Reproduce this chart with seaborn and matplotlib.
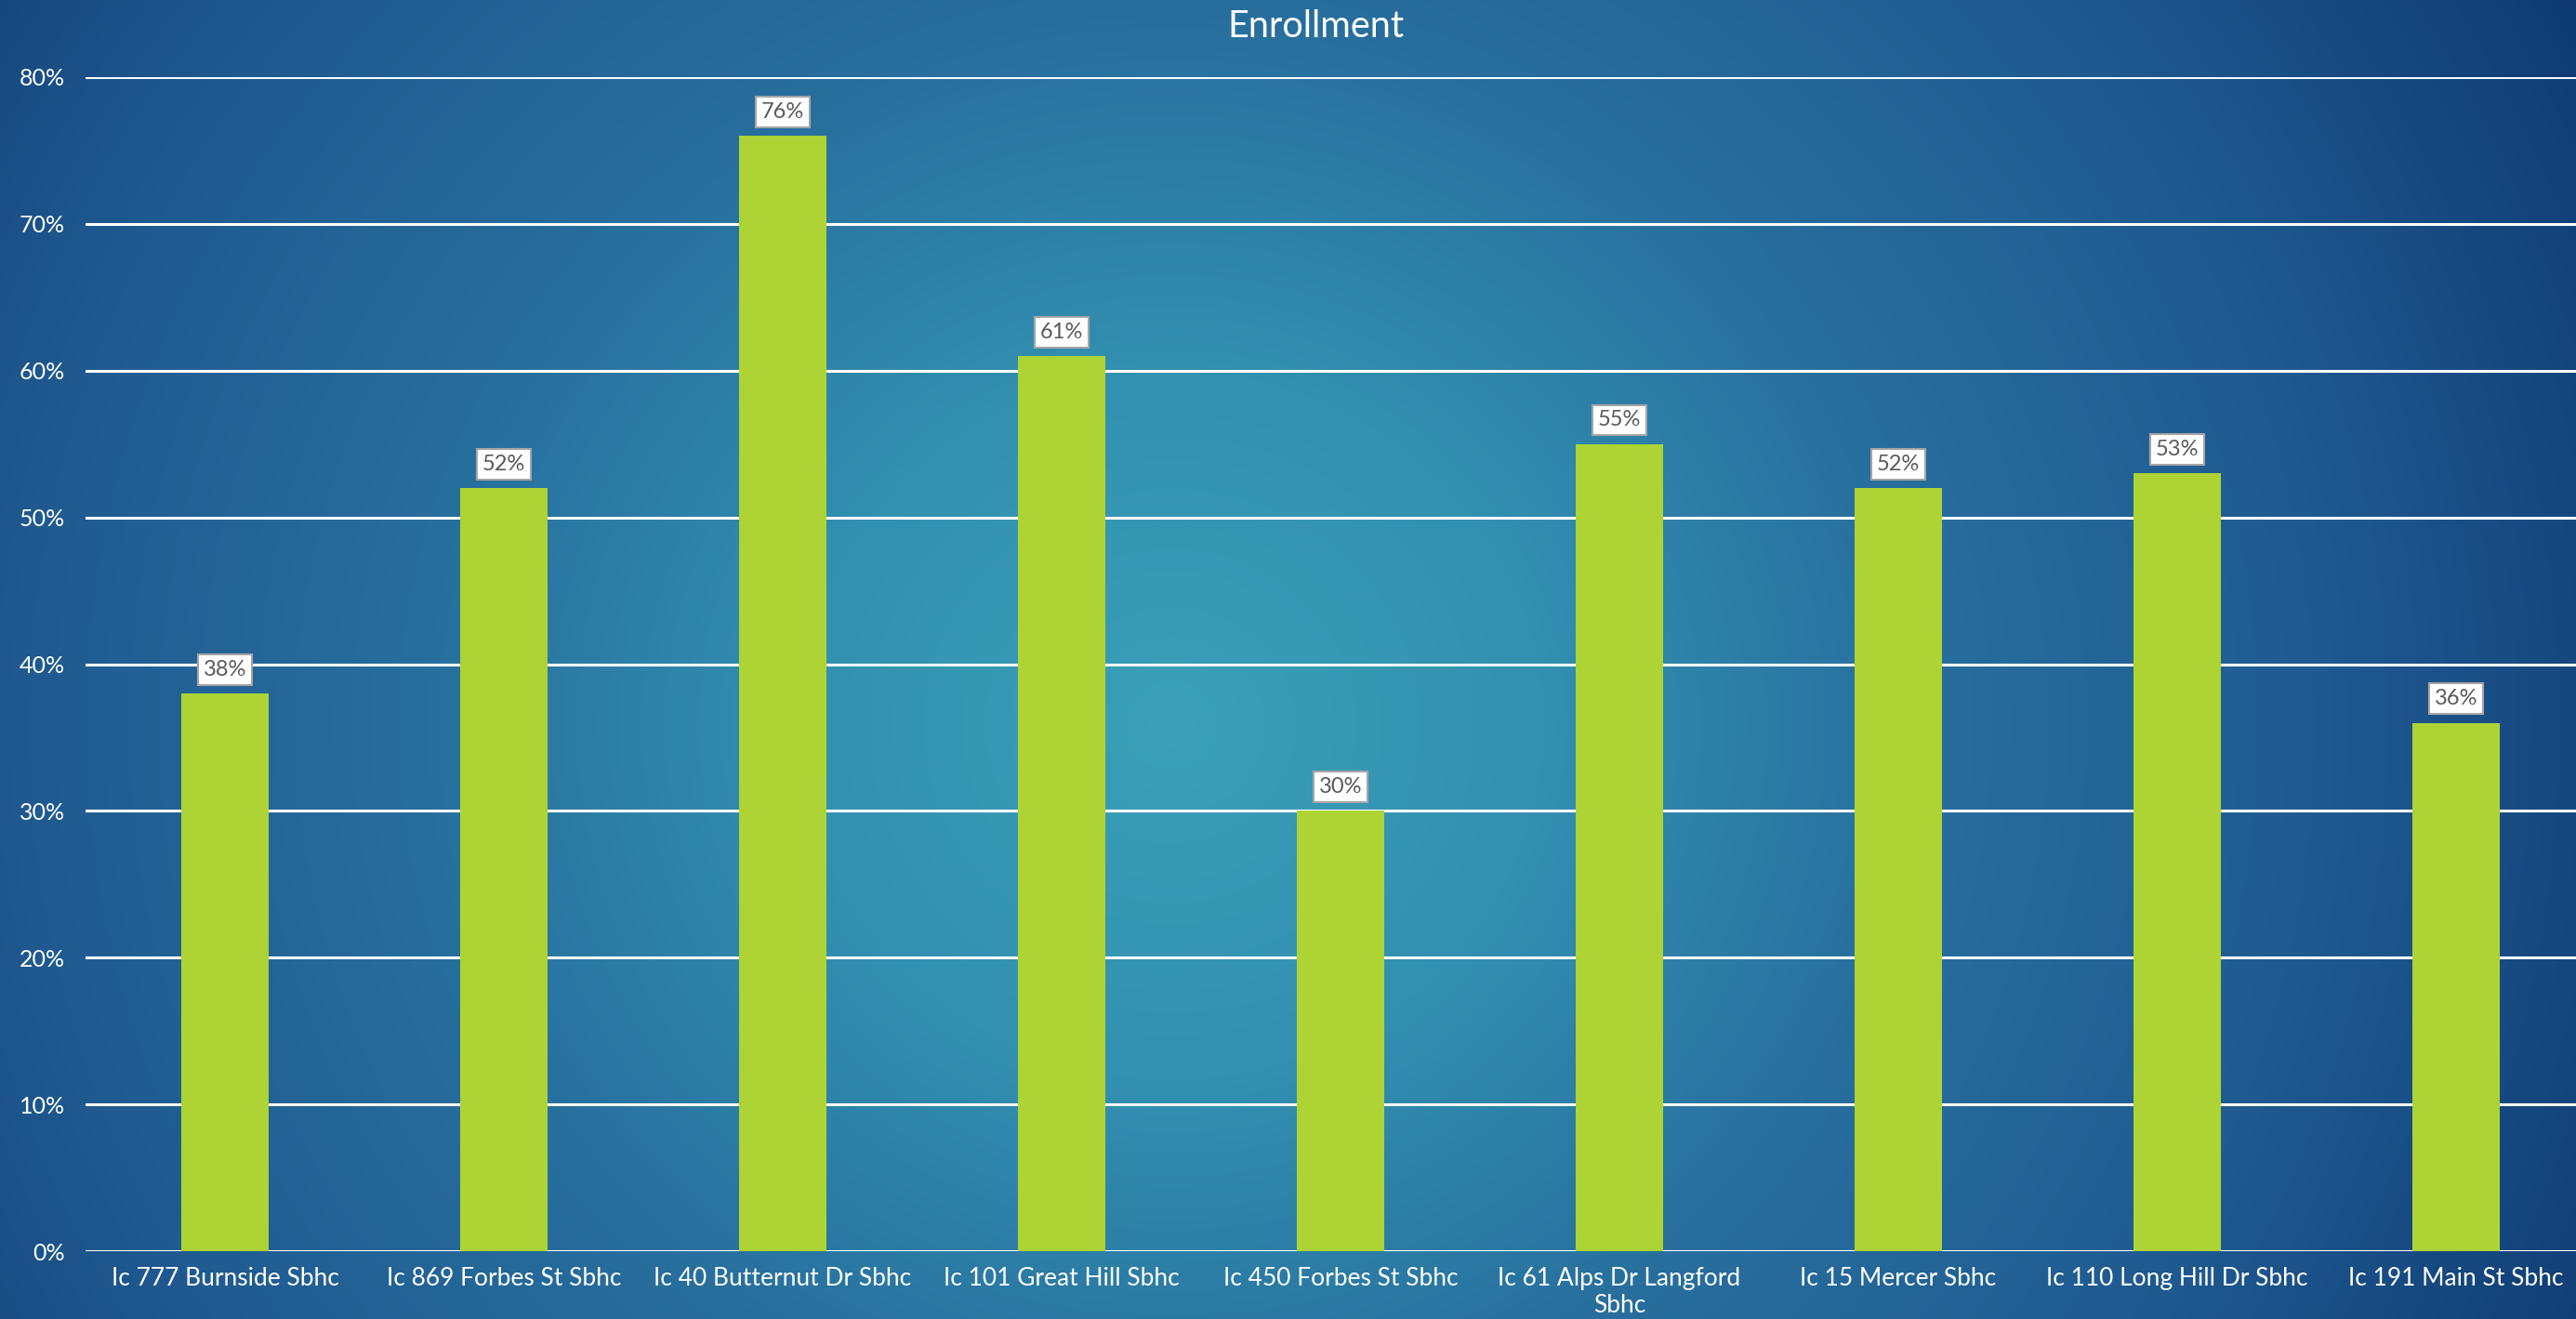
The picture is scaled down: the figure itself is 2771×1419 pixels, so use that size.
import numpy as np
import pandas as pd
import seaborn as sns
from matplotlib import pyplot as plt
from matplotlib.colors import to_rgb
from matplotlib.ticker import PercentFormatter

# chart data
sites = ['Ic 777 Burnside Sbhc', 'Ic 869 Forbes St Sbhc', 'Ic 40 Butternut Dr Sbhc',
         'Ic 101 Great Hill Sbhc', 'Ic 450 Forbes St Sbhc', 'Ic 61 Alps Dr Langford\nSbhc',
         'Ic 15 Mercer Sbhc', 'Ic 110 Long Hill Dr Sbhc', 'Ic 191 Main St Sbhc']
enrollment = [38, 52, 76, 61, 30, 55, 52, 53, 36]
y_ticks = [0, 10, 20, 30, 40, 50, 60, 70, 80]

df = pd.DataFrame({'site': sites, 'enrollment': enrollment})

sns.set_theme(style='white')
plt.rcParams['font.family'] = ['Lato', 'DejaVu Sans']

W, H = 2771, 1419
fig = plt.figure(figsize=(W / 100, H / 100), dpi=100)

# radial blue/teal background like the slide
yy, xx = np.mgrid[0:H, 0:W]
d = np.sqrt((xx - 1260.0) ** 2 + ((yy - 780.0) * 1.05) ** 2)
stops = [0, 400, 800, 1250, 1750]
cols = ['#3BA0B8', '#3290B0', '#286F9E', '#1F5990', '#0E3870']
rgb = np.array([to_rgb(c) for c in cols])
img = np.stack([np.interp(d, stops, rgb[:, i]) for i in range(3)], axis=-1)
bg = fig.add_axes([0, 0, 1, 1], zorder=-1)
bg.imshow(img, aspect='auto', interpolation='bilinear')
bg.axis('off')

# plot area runs a little past the right edge of the slide
ax = fig.add_axes([92 / W, (H - 1346) / H, 2700 / W, (1346 - 83) / H])
ax.set_facecolor('none')
sns.barplot(data=df, x='site', y='enrollment', color='#ADD434', width=0.315,
            saturation=1, linewidth=0, ax=ax, zorder=3)

ax.set_ylim(0, 80)
ax.set_yticks(y_ticks)
ax.yaxis.set_major_formatter(PercentFormatter(decimals=0))
ax.grid(axis='y', color='white', linewidth=2.2, zorder=0)
ax.set_axisbelow(True)
sns.despine(ax=ax, left=True, bottom=True, top=True, right=True)
ax.tick_params(axis='both', length=0, colors='white')
ax.tick_params(axis='y', pad=16, labelsize=18)
ax.tick_params(axis='x', pad=12, labelsize=19)
ax.set_xlabel('')
ax.set_ylabel('')

ax.bar_label(ax.containers[0], labels=[f'{v}%' for v in enrollment], padding=11,
             fontsize=17, color='#595959',
             bbox=dict(boxstyle='square,pad=0.25', facecolor='white', edgecolor='#A6A6A6', linewidth=1.5))

fig.text(1415 / W, 1 - 28 / H, 'Enrollment', ha='center', va='center', color='white', fontsize=28.5)

fig.savefig('out.png', dpi=100)
